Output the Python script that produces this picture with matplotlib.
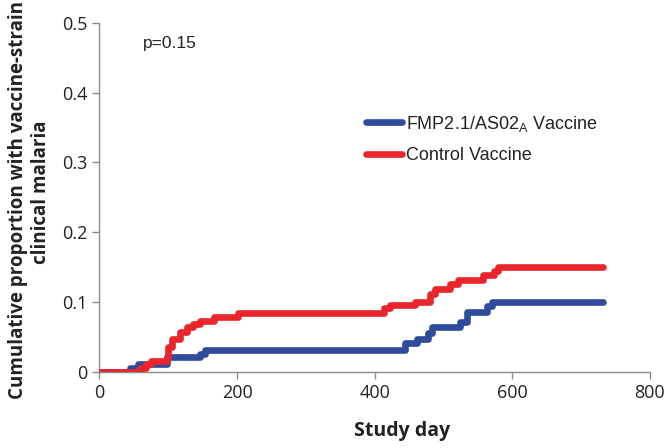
import numpy as np
import matplotlib
matplotlib.use("Agg")
import matplotlib.pyplot as plt

# step data (day of event, cumulative proportion after it)
fmp_days = [0, 44, 56, 98, 146, 153, 444, 461, 478, 483, 524, 534, 563, 571, 732]
fmp_vals = [0, 0.006, 0.011, 0.021, 0.026, 0.031, 0.041, 0.047, 0.055, 0.064,
            0.072, 0.086, 0.094, 0.100, 0.100]

ctrl_days = [0, 59, 68, 75, 98, 100, 105, 117, 127, 136, 146, 166, 202, 413,
             423, 459, 481, 488, 510, 521, 558, 573, 580, 732]
ctrl_vals = [0, 0.006, 0.011, 0.016, 0.021, 0.036, 0.047, 0.057, 0.064, 0.069,
             0.073, 0.078, 0.084, 0.091, 0.096, 0.100, 0.112, 0.119, 0.126,
             0.132, 0.139, 0.145, 0.150, 0.150]

xticks = [0, 200, 400, 600, 800]
yticks = [0, 0.1, 0.2, 0.3, 0.4, 0.5]
ytick_labels = ["0", "0.1", "0.2", "0.3", "0.4", "0.5"]

blue = "#2f4b9c"
red = "#e8262c"
gray = "#8c8c8c"

fig = plt.figure(figsize=(6.72, 4.48), dpi=100)
ax = fig.add_axes([0.148, 0.170, 0.819, 0.779])

ax.step(fmp_days, fmp_vals, where="post", color=blue, lw=4.8,
        solid_capstyle="round", label="FMP2.1/AS02$_\\mathregular{A}$ Vaccine", zorder=2)
ax.step(ctrl_days, ctrl_vals, where="post", color=red, lw=4.8,
        solid_capstyle="round", label="Control Vaccine", zorder=3)

ax.set_xlim(0, 800)
ax.set_ylim(0, 0.5)
ax.set_xticks(xticks)
ax.set_yticks(yticks)
ax.set_yticklabels(ytick_labels)

for s in ["top", "right"]:
    ax.spines[s].set_visible(False)
for s in ["left", "bottom"]:
    ax.spines[s].set_color(gray)
    ax.spines[s].set_linewidth(1.0)
ax.tick_params(direction="out", length=5, width=1.0, color=gray,
               labelsize=13, labelcolor="#222222")
for lab in ax.get_xticklabels() + ax.get_yticklabels():
    lab.set_fontfamily("Open Sans")

ax.set_xlabel("Study day", fontsize=14, fontweight="bold", family="Open Sans",
              color="#222222")
ax.xaxis.set_label_coords(0.55, -0.142)

# y label: two centred lines
ylab_kw = dict(fontsize=13.5, fontweight="bold", family="Open Sans",
               color="#222222", rotation=90, ha="center", va="center")
fig.text(18 / 672, 1 - 200 / 448, "Cumulative proportion with vaccine-strain", **ylab_kw)
fig.text(41 / 672, 1 - 192 / 448, "clinical malaria", **ylab_kw)

ax.text(0.079, 0.94, "p=0.15", transform=ax.transAxes, fontsize=12.5,
        family="Liberation Sans", color="#222222", va="center")

leg = ax.legend(loc="upper left", bbox_to_anchor=(0.485, 0.74), frameon=False,
                prop={"family": "Liberation Sans", "size": 13},
                handlelength=2.0, handletextpad=0.2, labelspacing=0.75,
                borderpad=0, borderaxespad=0)
for t in leg.get_texts():
    t.set_color("#222222")

fig.savefig("out.png", dpi=100)
